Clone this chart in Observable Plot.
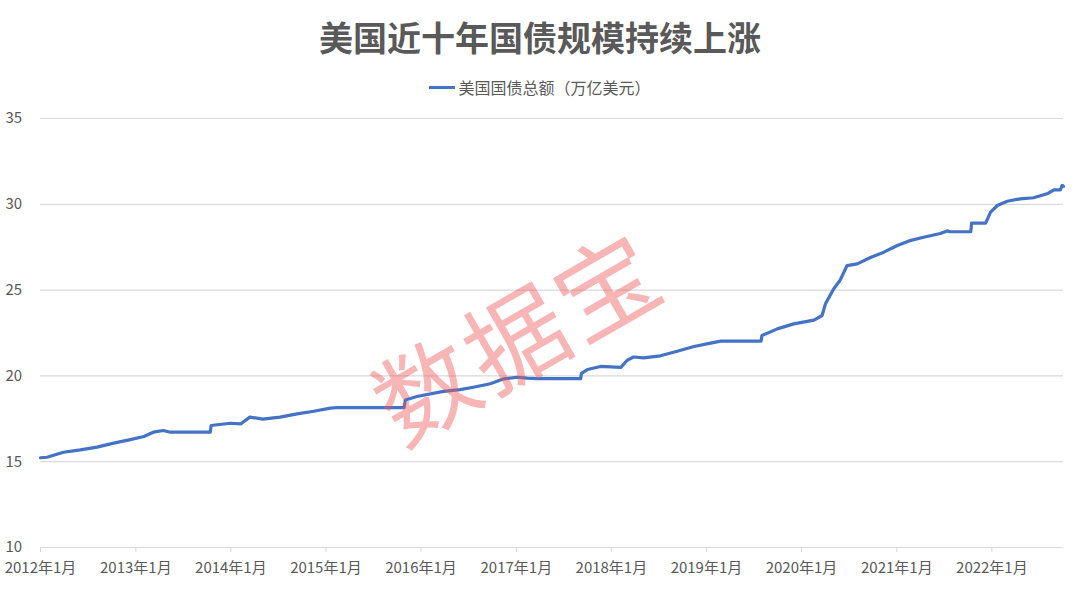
<!DOCTYPE html>
<html>
<head>
<meta charset="utf-8">
<script src="https://cdn.jsdelivr.net/npm/d3@7"></script>
<script src="https://cdn.jsdelivr.net/npm/@observablehq/plot@0.6"></script>
<style>
  body { margin: 0; background: #fff; font-family: "Noto Sans CJK SC", "Noto Sans", sans-serif; }
  #wrap { position: relative; width: 1080px; height: 592px; overflow: hidden; }
  #title { height: 74px; line-height: 74px; text-align: center; font-size: 34px; font-weight: bold; color: #595959; }
  #legend { height: 26px; display: flex; justify-content: center; align-items: center; font-size: 16px; color: #595959; }
  #legend .sw { width: 26px; height: 3px; background: #4472C4; margin-right: 3px; }
  #wm { position: absolute; left: 515px; top: 333px; transform: translate(-50%, -50%) rotate(-30deg);
        font-size: 100px; letter-spacing: 4px; color: rgba(238, 90, 90, 0.45); white-space: nowrap; pointer-events: none; line-height: 1; }
</style>
</head>
<body>
<div id="wrap">
  <div id="title">美国近十年国债规模持续上涨</div>
  <div id="legend"><span class="sw"></span><span>美国国债总额（万亿美元）</span></div>
  <div id="chart"></div>
  <div id="wm">数据宝</div>
</div>
<script>
const dates = [
  "2012-01-01","2012-01-26","2012-03-29","2012-06-02","2012-08-05","2012-10-08","2012-12-11",
  "2013-02-01","2013-03-09","2013-04-17","2013-05-13","2013-10-14","2013-10-17","2013-12-30",
  "2014-02-07","2014-03-15","2014-05-04","2014-07-09","2014-09-12","2014-11-15","2015-01-18",
  "2015-02-13","2015-10-28","2015-11-02","2015-12-16","2016-03-27","2016-05-30","2016-07-20",
  "2016-09-23","2016-11-14","2017-01-05","2017-02-12","2017-03-21","2017-09-05","2017-09-08",
  "2017-10-01","2017-11-21","2018-02-06","2018-03-02","2018-03-27","2018-05-05","2018-07-08",
  "2018-09-11","2018-11-14","2019-01-17","2019-02-25","2019-07-30","2019-08-02","2019-09-30",
  "2019-12-02","2020-02-18","2020-03-20","2020-04-02","2020-05-04","2020-05-28","2020-06-24",
  "2020-08-02","2020-09-22","2020-11-12","2021-01-03","2021-02-24","2021-04-14","2021-06-17",
  "2021-07-13","2021-07-25","2021-10-12","2021-10-15","2021-12-08","2021-12-27","2022-01-22",
  "2022-03-01","2022-04-20","2022-06-10","2022-08-01","2022-08-27","2022-09-21","2022-09-28",
  "2022-10-03"
];
const debt = [
  15.23, 15.26, 15.55, 15.69, 15.85, 16.08, 16.29,
  16.47, 16.72, 16.82, 16.72, 16.72, 17.11, 17.24,
  17.20, 17.60, 17.48, 17.60, 17.79, 17.94, 18.12,
  18.15, 18.15, 18.60, 18.80, 19.10, 19.20, 19.34,
  19.54, 19.83, 19.92, 19.87, 19.84, 19.84, 20.15,
  20.37, 20.55, 20.50, 20.90, 21.10, 21.05, 21.17,
  21.44, 21.71, 21.91, 22.03, 22.03, 22.35, 22.74,
  23.03, 23.25, 23.52, 24.20, 25.08, 25.57, 26.43,
  26.53, 26.90, 27.21, 27.60, 27.90, 28.08, 28.30,
  28.45, 28.40, 28.40, 28.90, 28.90, 29.54, 29.93,
  30.18, 30.32, 30.38, 30.61, 30.84, 30.84, 31.10,
  31.05
];
const yTicks = [10, 15, 20, 25, 30, 35];
const xTickYears = [2012, 2013, 2014, 2015, 2016, 2017, 2018, 2019, 2020, 2021, 2022];
const xTickLabels = xTickYears.map(y => `${y}年1月`);

const data = dates.map((d, i) => ({date: new Date(d + "T00:00:00Z"), value: debt[i]}));
const xTicks = xTickYears.map(y => new Date(Date.UTC(y, 0, 1)));

const chart = Plot.plot({
  width: 1080,
  height: 492,
  marginLeft: 40,
  marginRight: 17,
  marginTop: 18,
  marginBottom: 45,
  style: {fontFamily: "'Noto Sans CJK SC', 'Noto Sans', sans-serif", fontSize: "15px", color: "#595959", background: "transparent"},
  x: {type: "utc", domain: [new Date(Date.UTC(2012, 0, 1)), new Date(Date.UTC(2022, 9, 3))]},
  y: {domain: [10, 35]},
  marks: [
    Plot.gridY(yTicks.filter(t => t > 10), {stroke: "#d9d9d9", strokeOpacity: 1, strokeWidth: 1.2}),
    Plot.ruleY([10], {stroke: "#d9d9d9", strokeWidth: 1.2}),
    Plot.axisY({ticks: yTicks, tickSize: 0, tickPadding: 35, textAnchor: "start", fontSize: 15, fill: "#595959", label: null}),
    Plot.axisX({ticks: xTicks, tickFormat: (d, i) => xTickLabels[i], tickSize: 5, tickPadding: 10, stroke: "#d9d9d9", fill: "#595959", fontSize: 15, label: null}),
    Plot.lineY(data, {x: "date", y: "value", stroke: "#4472C4", strokeWidth: 3.2, strokeLinejoin: "round"})
  ]
});
document.getElementById("chart").appendChild(chart);
</script>
</body>
</html>
